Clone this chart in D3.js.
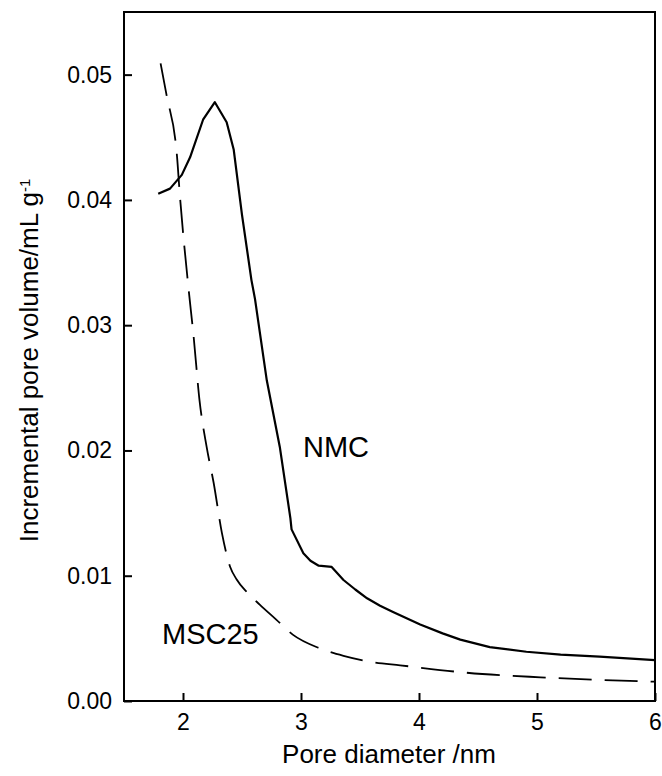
<!DOCTYPE html>
<html>
<head>
<meta charset="utf-8">
<script src="https://cdn.jsdelivr.net/npm/d3@7"></script>
<style>
  html, body { margin: 0; padding: 0; background: #fff; }
  svg { display: block; font-family: "Liberation Sans", Arial, Helvetica, sans-serif; }
</style>
</head>
<body>
<svg id="chart" width="662" height="776"></svg>
<script>
// ---- data ----
const nmcX = [1.79, 1.89, 1.99, 2.06, 2.17, 2.27, 2.37, 2.43, 2.50, 2.58, 2.61, 2.71, 2.82, 2.91, 2.92, 3.02, 3.08, 3.15, 3.26, 3.36, 3.46, 3.56, 3.67, 3.78, 4.01, 4.20, 4.35, 4.60, 4.91, 5.20, 5.53, 6.00];
const nmcY = [0.0405, 0.0409, 0.0420, 0.0434, 0.0464, 0.0478, 0.0462, 0.0440, 0.0388, 0.0336, 0.0321, 0.0256, 0.0203, 0.0146, 0.0137, 0.0118, 0.0112, 0.0108, 0.0107, 0.00966, 0.0089, 0.0082, 0.0076, 0.0071, 0.0061, 0.0054, 0.0049, 0.0043, 0.00393, 0.0037, 0.00354, 0.00327];

const mscX = [1.81, 1.86, 1.95, 1.97, 2.045, 2.09, 2.14, 2.20, 2.26, 2.33, 2.40, 2.455, 2.54, 2.65, 2.79, 2.93, 3.16, 3.36, 3.61, 3.84, 4.40, 5.03, 6.00];
const mscY = [0.0509, 0.0484, 0.0434, 0.0408, 0.0331, 0.0291, 0.0240, 0.0203, 0.0174, 0.0134, 0.0107, 0.0097, 0.0087, 0.0077, 0.0065, 0.0053, 0.0042, 0.0036, 0.0031, 0.00285, 0.00226, 0.00189, 0.00154];

const xTicks = [2, 3, 4, 5, 6];
const yTicks = [0.00, 0.01, 0.02, 0.03, 0.04, 0.05];
const seriesLabels = ["NMC", "MSC25"];
const xTitle = "Pore diameter /nm";
const yTitle = "Incremental pore volume/mL g";
const yTitleSup = "-1";

// ---- layout ----
const svg = d3.select("#chart");
const L = 124, R = 655, T = 12, B = 701;

const x = d3.scaleLinear().domain([1.5, 6]).range([L, R]);
const y = d3.scaleLinear().domain([0, 0.055]).range([B, T]);

// axes
const xAxis = d3.axisBottom(x).tickValues(xTicks).tickFormat(d3.format("d"))
  .tickSizeInner(-8).tickSizeOuter(0).tickPadding(13);
const yAxis = d3.axisLeft(y).tickValues(yTicks).tickFormat(d3.format(".2f"))
  .tickSizeInner(-8).tickSizeOuter(0).tickPadding(12);

const gx = svg.append("g").attr("transform", `translate(0,${B})`).call(xAxis);
const gy = svg.append("g").attr("transform", `translate(${L},0)`).call(yAxis);
[gx, gy].forEach(g => {
  g.select(".domain").remove();
  g.selectAll(".tick line").attr("stroke", "#000").attr("stroke-width", 2);
  g.selectAll(".tick text").attr("fill", "#000").style("font-size", "23px")
    .style("font-family", "'Liberation Sans', Arial, sans-serif");
});

// frame
svg.append("rect").attr("x", L).attr("y", T).attr("width", R - L).attr("height", B - T)
  .attr("fill", "none").attr("stroke", "#000").attr("stroke-width", 2);

// lines
const line = d3.line().x(d => x(d[0])).y(d => y(d[1]));
const smooth = d3.line().x(d => x(d[0])).y(d => y(d[1])).curve(d3.curveMonotoneX);
const nmc = nmcX.map((v, i) => [v, nmcY[i]]);
const msc = mscX.map((v, i) => [v, mscY[i]]);

svg.append("path").datum(nmc).attr("d", line)
  .attr("fill", "none").attr("stroke", "#000").attr("stroke-width", 2.2)
  .attr("stroke-linejoin", "round");
svg.append("path").datum(msc).attr("d", smooth)
  .attr("fill", "none").attr("stroke", "#000").attr("stroke-width", 1.8)
  .attr("stroke-dasharray", "33,13");

// series labels
svg.append("text").attr("x", 303).attr("y", 457).text(seriesLabels[0])
  .style("font-size", "29px").attr("fill", "#000");
svg.append("text").attr("x", 162).attr("y", 644).text(seriesLabels[1])
  .style("font-size", "29px").attr("fill", "#000");

// axis titles
svg.append("text").attr("x", 389).attr("y", 763).attr("text-anchor", "middle")
  .style("font-size", "26px").attr("fill", "#000").text(xTitle);

const yt = svg.append("text")
  .attr("transform", `translate(38,${(T + B) / 2 + 4}) rotate(-90)`)
  .attr("text-anchor", "middle").style("font-size", "26px").attr("fill", "#000");
yt.append("tspan").text(yTitle);
yt.append("tspan").attr("dy", "-0.55em").style("font-size", "15px").text(yTitleSup);
</script>
</body>
</html>
